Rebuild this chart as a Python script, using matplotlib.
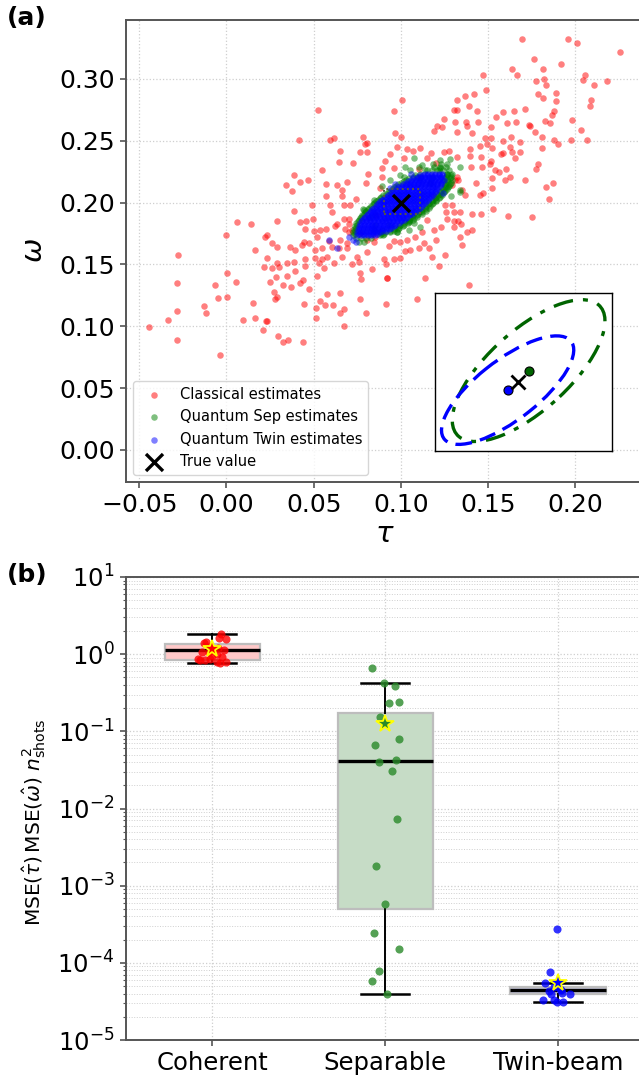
import numpy as np
import matplotlib

matplotlib.use("Agg")
import matplotlib.pyplot as plt
from matplotlib.patches import Ellipse, Rectangle


TRUE_TAU = 0.10
TRUE_OMEGA = 0.20

# (tau, omega) estimates
CLASSICAL_POINTS = [
    (0.1693, 0.332), (0.1957, 0.332), (0.2008, 0.329), (0.2257, 0.322), (0.1766, 0.316),
    (0.1919, 0.312), (0.1636, 0.308), (0.1814, 0.308), (0.1472, 0.303), (0.1665, 0.303),
    (0.2056, 0.303), (0.2043, 0.299), (0.1777, 0.298), (0.1823, 0.300), (0.2184, 0.298),
    (0.1833, 0.295), (0.2110, 0.295), (0.1491, 0.291), (0.1787, 0.288), (0.1817, 0.285),
    (0.1890, 0.289), (0.1422, 0.288), (0.1369, 0.286), (0.1323, 0.283), (0.1008, 0.283),
    (0.2088, 0.283), (0.1890, 0.282), (0.2085, 0.278), (0.1390, 0.278), (0.1709, 0.276),
    (0.1302, 0.275), (0.1323, 0.275), (0.1437, 0.274), (0.1588, 0.273), (0.1649, 0.274),
    (0.1880, 0.274), (0.0958, 0.274), (0.0523, 0.275), (0.1869, 0.271), (0.1546, 0.269),
    (0.1250, 0.268), (0.1983, 0.267), (0.1313, 0.265), (0.1371, 0.265), (0.1443, 0.265),
    (0.1609, 0.264), (0.1659, 0.265), (0.1732, 0.263), (0.1739, 0.262), (0.1827, 0.266),
    (0.1856, 0.264), (0.1207, 0.262), (0.1237, 0.261), (0.1188, 0.258), (0.1378, 0.262),
    (0.1517, 0.261), (0.2035, 0.259), (0.1768, 0.257), (0.1323, 0.257), (0.1407, 0.256),
    (0.0968, 0.256), (0.0416, 0.251), (0.0592, 0.251), (0.0619, 0.252), (0.0785, 0.253),
    (0.1002, 0.253), (0.1483, 0.252), (0.1514, 0.252), (0.1588, 0.250), (0.1632, 0.253),
    (0.1684, 0.249), (0.1810, 0.253), (0.1880, 0.251), (0.1903, 0.247), (0.1974, 0.251),
    (0.2068, 0.251), (0.0792, 0.247), (0.0807, 0.248), (0.0975, 0.245), (0.1111, 0.244),
    (0.1455, 0.246), (0.1493, 0.247), (0.1525, 0.244), (0.1584, 0.240), (0.1623, 0.245),
    (0.1636, 0.241), (0.1655, 0.236), (0.1684, 0.241), (0.1397, 0.243), (0.0767, 0.241),
    (0.0805, 0.241), (0.0649, 0.242), (0.0935, 0.239), (0.1038, 0.243), (0.1174, 0.240),
    (0.1245, 0.241), (0.1277, 0.242), (0.1812, 0.244), (0.0645, 0.233), (0.0724, 0.232),
    (0.0911, 0.234), (0.1321, 0.237), (0.1394, 0.238), (0.1461, 0.237), (0.1518, 0.234),
    (0.1573, 0.239), (0.1789, 0.231), (0.1775, 0.227), (0.0550, 0.226), (0.0958, 0.228),
    (0.1105, 0.227), (0.1401, 0.229), (0.1464, 0.229), (0.1512, 0.231), (0.1539, 0.226),
    (0.1563, 0.225), (0.1604, 0.227), (0.0386, 0.222), (0.0813, 0.223), (0.0892, 0.221),
    (0.1321, 0.221), (0.1523, 0.220), (0.1627, 0.221), (0.0420, 0.217), (0.0468, 0.218),
    (0.0342, 0.214), (0.0573, 0.215), (0.0634, 0.214), (0.0691, 0.217), (0.0802, 0.216),
    (0.1313, 0.218), (0.1328, 0.218), (0.1432, 0.216), (0.1598, 0.218), (0.1709, 0.218),
    (0.1833, 0.213), (0.1875, 0.216), (0.0376, 0.209), (0.0662, 0.210), (0.1291, 0.214),
    (0.1350, 0.210), (0.1451, 0.206), (0.1470, 0.208), (0.1525, 0.212), (0.1365, 0.206),
    (0.0573, 0.205), (0.0661, 0.205), (0.0745, 0.203), (0.1848, 0.203), (0.0489, 0.198),
    (0.0596, 0.198), (0.0672, 0.198), (0.0710, 0.198), (0.1254, 0.198), (0.1292, 0.198),
    (0.1527, 0.195), (0.0389, 0.193), (0.0607, 0.192), (0.0703, 0.187), (0.0672, 0.187),
    (0.1256, 0.192), (0.1304, 0.192), (0.1340, 0.192), (0.1409, 0.191), (0.1462, 0.191),
    (0.1613, 0.189), (0.1753, 0.188), (0.0424, 0.184), (0.0454, 0.185), (0.0496, 0.187),
    (0.0061, 0.184), (0.0143, 0.183), (0.0290, 0.185), (0.0634, 0.183), (0.0701, 0.183),
    (0.1264, 0.187), (0.1302, 0.185), (0.1327, 0.185), (0.1344, 0.183), (0.0452, 0.179),
    (0.0500, 0.177), (0.0538, 0.178), (0.0571, 0.179), (0.0624, 0.181), (0.0678, 0.179),
    (0.0722, 0.178), (0.0767, 0.175), (0.0000, 0.174), (0.0223, 0.172), (0.0233, 0.174),
    (0.1378, 0.176), (0.1409, 0.178), (0.1302, 0.180), (0.1231, 0.180), (0.1340, 0.172),
    (0.1188, 0.178), (0.1121, 0.176), (0.0443, 0.168), (0.0433, 0.166), (0.0475, 0.167),
    (0.0519, 0.172), (0.0588, 0.169), (0.0653, 0.170), (0.0691, 0.167), (0.0166, 0.162),
    (0.0262, 0.167), (0.0290, 0.164), (0.0367, 0.164), (0.0395, 0.162), (0.0510, 0.162),
    (0.0548, 0.163), (0.0605, 0.164), (0.0643, 0.163), (0.0691, 0.163), (0.0806, 0.170),
    (0.0844, 0.168), (0.0962, 0.169), (0.0993, 0.168), (0.1035, 0.170), (0.1130, 0.167),
    (0.1054, 0.162), (0.1102, 0.163), (0.1159, 0.163), (0.1178, 0.156), (0.1254, 0.158),
    (0.1350, 0.166), (-0.0277, 0.158), (0.0233, 0.155), (0.0290, 0.151), (0.0347, 0.151),
    (0.0386, 0.152), (0.0452, 0.154), (0.0510, 0.155), (0.0548, 0.154), (0.0577, 0.156),
    (0.0615, 0.151), (0.0662, 0.156), (0.0748, 0.156), (0.0806, 0.160), (0.0901, 0.154),
    (0.0958, 0.154), (0.0997, 0.155), (0.1025, 0.161), (0.0916, 0.150), (0.0214, 0.148),
    (0.0262, 0.147), (0.0300, 0.148), (0.0395, 0.145), (0.0452, 0.149), (0.0557, 0.147),
    (0.0720, 0.150), (0.0758, 0.152), (0.0834, 0.146), (0.1216, 0.149), (0.0004, 0.143),
    (0.0519, 0.141), (0.0529, 0.151), (0.0920, 0.139), (0.1140, 0.139), (-0.0286, 0.135),
    (-0.0067, 0.133), (0.0052, 0.136), (0.0004, 0.124), (-0.0046, 0.123), (-0.0130, 0.116),
    (-0.0118, 0.111), (-0.0281, 0.112), (-0.0336, 0.105), (-0.0445, 0.099), (-0.0286, 0.089),
    (-0.0038, 0.077), (0.0153, 0.119), (0.0094, 0.105), (0.0166, 0.107), (0.0227, 0.104),
    (0.0233, 0.104), (0.0208, 0.097), (0.0296, 0.092), (0.0325, 0.087), (0.0351, 0.089),
    (0.0439, 0.087), (0.0252, 0.136), (0.0283, 0.140), (0.0325, 0.133), (0.0347, 0.141),
    (0.0370, 0.132), (0.0424, 0.135), (0.0439, 0.137), (0.0472, 0.130), (0.0271, 0.128),
    (0.0290, 0.124), (0.0277, 0.122), (0.0443, 0.118), (0.0515, 0.115), (0.0535, 0.120),
    (0.0567, 0.117), (0.0609, 0.117), (0.0577, 0.126), (0.0649, 0.127), (0.0649, 0.111),
    (0.0676, 0.114), (0.0515, 0.107), (0.0676, 0.100), (0.0764, 0.122), (0.0767, 0.143),
    (0.0771, 0.138), (0.0802, 0.111), (0.0920, 0.139), (0.0913, 0.118), (0.1092, 0.122),
    (0.1392, 0.133), (0.0860, 0.190), (0.0880, 0.212), (0.1150, 0.186), (0.1190, 0.205),
    (0.0700, 0.176), (0.0850, 0.172), (0.0930, 0.165), (0.1080, 0.172), (0.1200, 0.170),
    (0.0890, 0.228), (0.1020, 0.236), (0.1150, 0.236), (0.1070, 0.242), (0.1200, 0.232),
]

SEP_POINTS = [
    # scattered fringe
    (0.1078, 0.2360), (0.1121, 0.2306), (0.1187, 0.2314), (0.1222, 0.2279), (0.1279, 0.2352),
    (0.1264, 0.2233), (0.1340, 0.2089), (0.1273, 0.2130), (0.0892, 0.2135), (0.0786, 0.1940),
    (0.0825, 0.1887), (0.0892, 0.1779), (0.0978, 0.1765), (0.1044, 0.1846), (0.0997, 0.2224),
    (0.1092, 0.2210), (0.1140, 0.2265), (0.1168, 0.2157), (0.0939, 0.2184), (0.0844, 0.2022),
    (0.0853, 0.1819), (0.0930, 0.1819), (0.1054, 0.2265), (0.1226, 0.2346), (0.1340, 0.2290),
    (0.1025, 0.2286), (0.1102, 0.2290), (0.1178, 0.2210), (0.1289, 0.2057), (0.1340, 0.2100),
    (0.0781, 0.1950), (0.0977, 0.1765), (0.1044, 0.1780), (0.0844, 0.1780), (0.0882, 0.1765),
    (0.1016, 0.2210), (0.1111, 0.1805), (0.1073, 0.1833), (0.1216, 0.2265), (0.1111, 0.2210),
    # dense ring around the twin-beam cloud
    (0.0760, 0.1685), (0.0790, 0.1685),
    (0.0745, 0.1710), (0.0770, 0.1710), (0.0800, 0.1710), (0.0830, 0.1710),
    (0.0725, 0.1735), (0.0880, 0.1735), (0.0900, 0.1735),
    (0.0736, 0.17475), (0.0886, 0.17475), (0.0906, 0.17475),
    (0.0728, 0.1760), (0.0910, 0.1760), (0.0935, 0.1760),
    (0.0736, 0.17725), (0.0940, 0.17725), (0.0960, 0.17725),
    (0.0730, 0.1785), (0.0960, 0.1785), (0.0985, 0.1785),
    (0.0741, 0.17975), (0.0966, 0.17975), (0.0990, 0.17975),
    (0.0738, 0.1810), (0.0988, 0.1810), (0.1012, 0.1810),
    (0.0746, 0.18225), (0.0994, 0.18225), (0.1016, 0.18225),
    (0.0745, 0.1835), (0.1018, 0.1835), (0.1042, 0.1835),
    (0.0754, 0.18475), (0.1024, 0.18475), (0.1046, 0.18475),
    (0.0758, 0.1860), (0.1046, 0.1860), (0.1070, 0.1860),
    (0.0766, 0.18725), (0.1052, 0.18725), (0.1074, 0.18725),
    (0.0770, 0.1885), (0.1066, 0.1885), (0.1090, 0.1885),
    (0.0780, 0.18975), (0.1072, 0.18975), (0.1094, 0.18975),
    (0.0786, 0.1910), (0.1096, 0.1910), (0.1120, 0.1910),
    (0.0796, 0.19225), (0.1102, 0.19225), (0.1124, 0.19225),
    (0.0802, 0.1935), (0.1118, 0.1935), (0.1142, 0.1935),
    (0.0812, 0.19475), (0.1124, 0.19475), (0.1146, 0.19475),
    (0.0820, 0.1960), (0.1138, 0.1960), (0.1162, 0.1960),
    (0.0830, 0.19725), (0.1144, 0.19725), (0.1166, 0.19725),
    (0.0838, 0.1985), (0.1156, 0.1985), (0.1180, 0.1985),
    (0.0848, 0.19975), (0.1162, 0.19975), (0.1184, 0.19975),
    (0.0858, 0.2010), (0.1176, 0.2010), (0.1200, 0.2010),
    (0.0868, 0.20225), (0.1182, 0.20225), (0.1204, 0.20225),
    (0.0878, 0.2035), (0.1194, 0.2035), (0.1218, 0.2035),
    (0.0888, 0.20475), (0.1200, 0.20475), (0.1222, 0.20475),
    (0.0900, 0.2060), (0.1212, 0.2060), (0.1236, 0.2060),
    (0.0912, 0.20725), (0.1204, 0.20725), (0.1228, 0.20725),
    (0.0924, 0.2085), (0.1224, 0.2085), (0.1250, 0.2085),
    (0.0936, 0.20975), (0.1228, 0.20975), (0.1252, 0.20975),
    (0.0948, 0.2110), (0.1240, 0.2110), (0.1265, 0.2110),
    (0.0960, 0.21225), (0.1230, 0.21225), (0.1256, 0.21225),
    (0.0974, 0.2135), (0.1252, 0.2135), (0.1278, 0.2135),
    (0.0986, 0.21475), (0.1254, 0.21475), (0.1280, 0.21475),
    (0.1002, 0.2160), (0.1260, 0.2160), (0.1288, 0.2160),
    (0.1016, 0.21725), (0.1242, 0.21725), (0.1270, 0.21725),
    (0.1032, 0.2185), (0.1266, 0.2185), (0.1295, 0.2185),
    (0.1046, 0.21975), (0.1250, 0.21975), (0.1280, 0.21975),
    (0.1068, 0.2210), (0.1258, 0.2210), (0.1290, 0.2210),
    (0.1082, 0.22225), (0.1262, 0.22225), (0.1290, 0.22225),
    (0.1110, 0.2235), (0.1262, 0.2235), (0.1292, 0.2235),
    (0.1150, 0.2260), (0.1180, 0.2260), (0.1210, 0.2260), (0.1240, 0.2260), (0.1275, 0.2260),
    (0.1190, 0.2285), (0.1225, 0.2285), (0.1260, 0.2285),
    (0.1230, 0.2310), (0.1265, 0.2310),
]

TWIN_POINTS = [
    (0.0750, 0.1735), (0.0770, 0.1735), (0.0790, 0.1735), (0.0810, 0.1735), (0.0830, 0.1735),
    (0.0850, 0.1735),
    (0.0761, 0.17475), (0.0781, 0.17475), (0.0801, 0.17475), (0.0821, 0.17475),
    (0.0841, 0.17475), (0.0861, 0.17475),
    (0.0750, 0.1760), (0.0772, 0.1760), (0.0794, 0.1760), (0.0816, 0.1760), (0.0838, 0.1760),
    (0.0860, 0.1760), (0.0882, 0.1760),
    (0.0761, 0.17725), (0.0783, 0.17725), (0.0805, 0.17725), (0.0827, 0.17725),
    (0.0849, 0.17725), (0.0871, 0.17725), (0.0893, 0.17725), (0.0915, 0.17725),
    (0.0755, 0.1785), (0.0777, 0.1785), (0.0799, 0.1785), (0.0821, 0.1785), (0.0843, 0.1785),
    (0.0865, 0.1785), (0.0887, 0.1785), (0.0909, 0.1785), (0.0930, 0.1785),
    (0.0766, 0.17975), (0.0788, 0.17975), (0.0810, 0.17975), (0.0832, 0.17975),
    (0.0854, 0.17975), (0.0876, 0.17975), (0.0898, 0.17975), (0.0920, 0.17975),
    (0.0941, 0.17975),
    (0.0760, 0.1810), (0.0782, 0.1810), (0.0804, 0.1810), (0.0826, 0.1810), (0.0848, 0.1810),
    (0.0870, 0.1810), (0.0892, 0.1810), (0.0914, 0.1810), (0.0936, 0.1810), (0.0958, 0.1810),
    (0.0771, 0.18225), (0.0793, 0.18225), (0.0815, 0.18225), (0.0837, 0.18225),
    (0.0859, 0.18225), (0.0881, 0.18225), (0.0903, 0.18225), (0.0925, 0.18225),
    (0.0947, 0.18225), (0.0969, 0.18225),
    (0.0768, 0.1835), (0.0790, 0.1835), (0.0812, 0.1835), (0.0834, 0.1835), (0.0856, 0.1835),
    (0.0878, 0.1835), (0.0900, 0.1835), (0.0922, 0.1835), (0.0944, 0.1835), (0.0966, 0.1835),
    (0.0988, 0.1835),
    (0.0779, 0.18475), (0.0801, 0.18475), (0.0823, 0.18475), (0.0845, 0.18475),
    (0.0867, 0.18475), (0.0889, 0.18475), (0.0911, 0.18475), (0.0933, 0.18475),
    (0.0955, 0.18475), (0.0977, 0.18475), (0.0999, 0.18475),
    (0.0780, 0.1860), (0.0802, 0.1860), (0.0824, 0.1860), (0.0846, 0.1860), (0.0868, 0.1860),
    (0.0890, 0.1860), (0.0912, 0.1860), (0.0934, 0.1860), (0.0956, 0.1860), (0.0978, 0.1860),
    (0.1000, 0.1860), (0.1016, 0.1860),
    (0.0791, 0.18725), (0.0813, 0.18725), (0.0835, 0.18725), (0.0857, 0.18725),
    (0.0879, 0.18725), (0.0901, 0.18725), (0.0923, 0.18725), (0.0945, 0.18725),
    (0.0967, 0.18725), (0.0989, 0.18725), (0.1011, 0.18725), (0.1027, 0.18725),
    (0.0794, 0.1885), (0.0816, 0.1885), (0.0838, 0.1885), (0.0860, 0.1885), (0.0882, 0.1885),
    (0.0904, 0.1885), (0.0926, 0.1885), (0.0948, 0.1885), (0.0970, 0.1885), (0.0992, 0.1885),
    (0.1014, 0.1885), (0.1036, 0.1885),
    (0.0805, 0.18975), (0.0827, 0.18975), (0.0849, 0.18975), (0.0871, 0.18975),
    (0.0893, 0.18975), (0.0915, 0.18975), (0.0937, 0.18975), (0.0959, 0.18975),
    (0.0981, 0.18975), (0.1003, 0.18975), (0.1025, 0.18975), (0.1047, 0.18975),
    (0.0810, 0.1910), (0.0832, 0.1910), (0.0854, 0.1910), (0.0876, 0.1910), (0.0898, 0.1910),
    (0.0920, 0.1910), (0.0942, 0.1910), (0.0964, 0.1910), (0.0986, 0.1910), (0.1008, 0.1910),
    (0.1030, 0.1910), (0.1052, 0.1910), (0.1066, 0.1910),
    (0.0821, 0.19225), (0.0843, 0.19225), (0.0865, 0.19225), (0.0887, 0.19225),
    (0.0909, 0.19225), (0.0931, 0.19225), (0.0953, 0.19225), (0.0975, 0.19225),
    (0.0997, 0.19225), (0.1019, 0.19225), (0.1041, 0.19225), (0.1063, 0.19225),
    (0.1077, 0.19225),
    (0.0826, 0.1935), (0.0848, 0.1935), (0.0870, 0.1935), (0.0892, 0.1935), (0.0914, 0.1935),
    (0.0936, 0.1935), (0.0958, 0.1935), (0.0980, 0.1935), (0.1002, 0.1935), (0.1024, 0.1935),
    (0.1046, 0.1935), (0.1068, 0.1935), (0.1088, 0.1935),
    (0.0837, 0.19475), (0.0859, 0.19475), (0.0881, 0.19475), (0.0903, 0.19475),
    (0.0925, 0.19475), (0.0947, 0.19475), (0.0969, 0.19475), (0.0991, 0.19475),
    (0.1013, 0.19475), (0.1035, 0.19475), (0.1057, 0.19475), (0.1079, 0.19475),
    (0.1099, 0.19475),
    (0.0844, 0.1960), (0.0866, 0.1960), (0.0888, 0.1960), (0.0910, 0.1960), (0.0932, 0.1960),
    (0.0954, 0.1960), (0.0976, 0.1960), (0.0998, 0.1960), (0.1020, 0.1960), (0.1042, 0.1960),
    (0.1064, 0.1960), (0.1086, 0.1960), (0.1108, 0.1960),
    (0.0855, 0.19725), (0.0877, 0.19725), (0.0899, 0.19725), (0.0921, 0.19725),
    (0.0943, 0.19725), (0.0965, 0.19725), (0.0987, 0.19725), (0.1009, 0.19725),
    (0.1031, 0.19725), (0.1053, 0.19725), (0.1075, 0.19725), (0.1097, 0.19725),
    (0.1119, 0.19725),
    (0.0862, 0.1985), (0.0884, 0.1985), (0.0906, 0.1985), (0.0928, 0.1985), (0.0950, 0.1985),
    (0.0972, 0.1985), (0.0994, 0.1985), (0.1016, 0.1985), (0.1038, 0.1985), (0.1060, 0.1985),
    (0.1082, 0.1985), (0.1104, 0.1985), (0.1126, 0.1985),
    (0.0873, 0.19975), (0.0895, 0.19975), (0.0917, 0.19975), (0.0939, 0.19975),
    (0.0961, 0.19975), (0.0983, 0.19975), (0.1005, 0.19975), (0.1027, 0.19975),
    (0.1049, 0.19975), (0.1071, 0.19975), (0.1093, 0.19975), (0.1115, 0.19975),
    (0.1137, 0.19975),
    (0.0882, 0.2010), (0.0904, 0.2010), (0.0926, 0.2010), (0.0948, 0.2010), (0.0970, 0.2010),
    (0.0992, 0.2010), (0.1014, 0.2010), (0.1036, 0.2010), (0.1058, 0.2010), (0.1080, 0.2010),
    (0.1102, 0.2010), (0.1124, 0.2010), (0.1146, 0.2010),
    (0.0893, 0.20225), (0.0915, 0.20225), (0.0937, 0.20225), (0.0959, 0.20225),
    (0.0981, 0.20225), (0.1003, 0.20225), (0.1025, 0.20225), (0.1047, 0.20225),
    (0.1069, 0.20225), (0.1091, 0.20225), (0.1113, 0.20225), (0.1135, 0.20225),
    (0.1157, 0.20225),
    (0.0902, 0.2035), (0.0924, 0.2035), (0.0946, 0.2035), (0.0968, 0.2035), (0.0990, 0.2035),
    (0.1012, 0.2035), (0.1034, 0.2035), (0.1056, 0.2035), (0.1078, 0.2035), (0.1100, 0.2035),
    (0.1122, 0.2035), (0.1144, 0.2035), (0.1164, 0.2035),
    (0.0913, 0.20475), (0.0935, 0.20475), (0.0957, 0.20475), (0.0979, 0.20475),
    (0.1001, 0.20475), (0.1023, 0.20475), (0.1045, 0.20475), (0.1067, 0.20475),
    (0.1089, 0.20475), (0.1111, 0.20475), (0.1133, 0.20475), (0.1155, 0.20475),
    (0.1175, 0.20475),
    (0.0926, 0.2060), (0.0948, 0.2060), (0.0970, 0.2060), (0.0992, 0.2060), (0.1014, 0.2060),
    (0.1036, 0.2060), (0.1058, 0.2060), (0.1080, 0.2060), (0.1102, 0.2060), (0.1124, 0.2060),
    (0.1146, 0.2060), (0.1168, 0.2060), (0.1182, 0.2060),
    (0.0937, 0.20725), (0.0959, 0.20725), (0.0981, 0.20725), (0.1003, 0.20725),
    (0.1025, 0.20725), (0.1047, 0.20725), (0.1069, 0.20725), (0.1091, 0.20725),
    (0.1113, 0.20725), (0.1135, 0.20725), (0.1157, 0.20725), (0.1179, 0.20725),
    (0.0950, 0.2085), (0.0972, 0.2085), (0.0994, 0.2085), (0.1016, 0.2085), (0.1038, 0.2085),
    (0.1060, 0.2085), (0.1082, 0.2085), (0.1104, 0.2085), (0.1126, 0.2085), (0.1148, 0.2085),
    (0.1170, 0.2085), (0.1194, 0.2085),
    (0.0961, 0.20975), (0.0983, 0.20975), (0.1005, 0.20975), (0.1027, 0.20975),
    (0.1049, 0.20975), (0.1071, 0.20975), (0.1093, 0.20975), (0.1115, 0.20975),
    (0.1137, 0.20975), (0.1159, 0.20975), (0.1181, 0.20975), (0.1203, 0.20975),
    (0.0974, 0.2110), (0.0996, 0.2110), (0.1018, 0.2110), (0.1040, 0.2110), (0.1062, 0.2110),
    (0.1084, 0.2110), (0.1106, 0.2110), (0.1128, 0.2110), (0.1150, 0.2110), (0.1172, 0.2110),
    (0.1194, 0.2110), (0.1210, 0.2110),
    (0.0985, 0.21225), (0.1007, 0.21225), (0.1029, 0.21225), (0.1051, 0.21225),
    (0.1073, 0.21225), (0.1095, 0.21225), (0.1117, 0.21225), (0.1139, 0.21225),
    (0.1161, 0.21225), (0.1183, 0.21225), (0.1205, 0.21225),
    (0.1000, 0.2135), (0.1022, 0.2135), (0.1044, 0.2135), (0.1066, 0.2135), (0.1088, 0.2135),
    (0.1110, 0.2135), (0.1132, 0.2135), (0.1154, 0.2135), (0.1176, 0.2135), (0.1198, 0.2135),
    (0.1222, 0.2135),
    (0.1011, 0.21475), (0.1033, 0.21475), (0.1055, 0.21475), (0.1077, 0.21475),
    (0.1099, 0.21475), (0.1121, 0.21475), (0.1143, 0.21475), (0.1165, 0.21475),
    (0.1187, 0.21475), (0.1209, 0.21475), (0.1229, 0.21475),
    (0.1030, 0.2160), (0.1052, 0.2160), (0.1074, 0.2160), (0.1096, 0.2160), (0.1118, 0.2160),
    (0.1140, 0.2160), (0.1162, 0.2160), (0.1184, 0.2160), (0.1206, 0.2160), (0.1230, 0.2160),
    (0.1041, 0.21725), (0.1063, 0.21725), (0.1085, 0.21725), (0.1107, 0.21725),
    (0.1129, 0.21725), (0.1151, 0.21725), (0.1173, 0.21725), (0.1195, 0.21725),
    (0.1217, 0.21725),
    (0.1060, 0.2185), (0.1082, 0.2185), (0.1104, 0.2185), (0.1126, 0.2185), (0.1148, 0.2185),
    (0.1170, 0.2185), (0.1192, 0.2185), (0.1214, 0.2185), (0.1236, 0.2185),
    (0.1071, 0.21975), (0.1093, 0.21975), (0.1115, 0.21975), (0.1137, 0.21975),
    (0.1159, 0.21975), (0.1181, 0.21975), (0.1203, 0.21975), (0.1225, 0.21975),
    (0.1096, 0.2210), (0.1118, 0.2210), (0.1140, 0.2210), (0.1162, 0.2210), (0.1184, 0.2210),
    (0.1206, 0.2210), (0.1228, 0.2210),
    (0.1107, 0.22225), (0.1129, 0.22225), (0.1151, 0.22225), (0.1173, 0.22225),
    (0.1195, 0.22225), (0.1217, 0.22225), (0.1237, 0.22225),
    (0.1136, 0.2235), (0.1156, 0.2235), (0.1176, 0.2235), (0.1196, 0.2235), (0.1216, 0.2235),
    (0.1236, 0.2235),
    # stragglers
    (0.0590, 0.1695), (0.0634, 0.1630), (0.0725, 0.1700), (0.0740, 0.1680), (0.0700, 0.1720),
    (0.0964, 0.2150), (0.1245, 0.2180), (0.0940, 0.2120), (0.1060, 0.2230), (0.1240, 0.2080),
]

# zoomed window shown in the inset, with mean and 1-sigma covariance of each estimator
INSET_XLIM = (0.0905, 0.1107)
INSET_YLIM = (0.1911, 0.2113)
SEP_MEAN = (0.1012, 0.2014)
TWIN_MEAN = (0.0988, 0.1989)
SEP_STD = (0.00873, 0.00908)
TWIN_STD = (0.00756, 0.00695)
SEP_RHO = 0.70
TWIN_RHO = 0.74

# panel (b): MSE product per run, with horizontal jitter used in the strip plot
STATES = ["Coherent", "Separable", "Twin-beam"]
COHERENT_MSE = [1.85, 1.60, 1.56, 1.13, 1.38, 1.08, 0.84, 0.84, 0.86, 0.80,
                0.776, 0.78, 1.02, 0.93, 0.86, 1.08, 1.25, 1.45, 0.95, 1.20]
COHERENT_JITTER = [0.052, 0.042, 0.081, 0.069, -0.050, -0.060, -0.069, -0.040, -0.012, 0.027,
                   0.046, 0.081, 0.027, 0.056, -0.079, -0.021, -0.012, -0.035, 0.000, 0.035]
SEPARABLE_MSE = [0.668, 0.42, 0.387, 0.235, 0.243, 0.155, 0.13, 0.0797, 0.066, 0.0427,
                 0.0398, 0.0307, 0.0073, 0.00179, 5.8e-4, 2.45e-4, 1.49e-4, 7.94e-5,
                 5.73e-5, 3.89e-5]
SEPARABLE_JITTER = [-0.074, -0.008, 0.058, 0.021, 0.081, -0.027, 0.0, 0.080, -0.060, 0.064,
                    -0.038, 0.039, 0.068, -0.055, 0.000, -0.066, 0.080, -0.038, -0.074, 0.009]
TWIN_MSE = [7.7e-5, 5.56e-5, 4.33e-5, 4.9e-5, 4.4e-5, 4.07e-5, 4.0e-5, 3.32e-5, 3.32e-5,
            3.1e-5, 3.1e-5, 4.0e-5, 2.75e-4, 5.5e-5, 4.6e-5]
TWIN_JITTER = [-0.048, -0.075, -0.052, -0.023, 0.015, 0.025, 0.069, -0.088, -0.023,
               -0.004, 0.027, -0.042, -0.006, 0.000, 0.010]

BOX_Q1 = [0.841, 4.95e-4, 3.94e-5]
BOX_MEDIAN = [1.13, 0.0414, 4.47e-5]
BOX_Q3 = [1.343, 0.1746, 4.93e-5]
BOX_WHISLO = [0.776, 3.89e-5, 3.13e-5]
BOX_WHISHI = [1.83, 0.42, 5.56e-5]
MEAN_MSE = [1.16, 0.1247, 5.56e-5]

SPINE_COLOR = "#555555"
GRID_COLOR = "#cfcfcf"


def style_axes(ax):
    for spine in ax.spines.values():
        spine.set_color(SPINE_COLOR)
        spine.set_linewidth(1.4)
    ax.tick_params(which="major", length=4.5, width=1.2, color=SPINE_COLOR)
    ax.tick_params(which="minor", length=2.5, width=0.8, color=SPINE_COLOR)


def cov_ellipse(ax, center, std, rho, **kwargs):
    sx, sy = std
    cov = np.array([[sx ** 2, rho * sx * sy], [rho * sx * sy, sy ** 2]])
    vals, vecs = np.linalg.eigh(cov)
    angle = np.degrees(np.arctan2(vecs[1, 1], vecs[0, 1]))
    ax.add_patch(
        Ellipse(center, 2 * np.sqrt(vals[1]), 2 * np.sqrt(vals[0]), angle=angle,
                fill=False, **kwargs)
    )


def plot_scatter_panel(fig):
    ax = fig.add_axes([0.1972, 0.5529, 0.8114, 0.4289])
    style_axes(ax)

    for points, color, label, z in [
        (CLASSICAL_POINTS, "red", "Classical estimates", 2),
        (SEP_POINTS, "green", "Quantum Sep estimates", 3),
        (TWIN_POINTS, "blue", "Quantum Twin estimates", 4),
    ]:
        tau = [p[0] for p in points]
        omega = [p[1] for p in points]
        ax.scatter(tau, omega, s=22, color=color, alpha=0.5, linewidths=0,
                   label=label, zorder=z)
    ax.scatter([TRUE_TAU], [TRUE_OMEGA], marker="x", s=150, color="black",
               linewidths=2.4, label="True value", zorder=6)

    # dotted frame marking the zoomed window
    ax.add_patch(Rectangle((INSET_XLIM[0], INSET_YLIM[0]),
                           INSET_XLIM[1] - INSET_XLIM[0], INSET_YLIM[1] - INSET_YLIM[0],
                           fill=False, ls=":", lw=1.4, ec="#5a5a3c", zorder=5))

    ax.set_xlim(-0.0576, 0.2397)
    ax.set_ylim(-0.026, 0.348)
    ax.set_xticks([-0.05, 0.0, 0.05, 0.10, 0.15, 0.20])
    ax.set_yticks([0.0, 0.05, 0.10, 0.15, 0.20, 0.25, 0.30])
    ax.tick_params(labelsize=18)
    ax.grid(True, ls=":", color=GRID_COLOR, lw=0.9)
    ax.set_axisbelow(True)
    ax.set_xlabel(r"$\tau$", fontsize=21, labelpad=2)
    ax.set_ylabel(r"$\omega$", fontsize=21, labelpad=8)
    ax.legend(loc="lower left", fontsize=10.5, framealpha=0.8, handletextpad=0.8)

    inset = fig.add_axes([0.6808, 0.5816, 0.2765, 0.1463])
    inset.set_xlim(*INSET_XLIM)
    inset.set_ylim(*INSET_YLIM)
    inset.set_xticks([])
    inset.set_yticks([])
    for spine in inset.spines.values():
        spine.set_color("black")
        spine.set_linewidth(1.0)
    cov_ellipse(inset, SEP_MEAN, SEP_STD, SEP_RHO, ec="darkgreen", lw=2.4,
                ls=(0, (6, 3, 1.5, 3)))
    cov_ellipse(inset, TWIN_MEAN, TWIN_STD, TWIN_RHO, ec="blue", lw=2.4,
                ls=(0, (5, 2.5)))
    inset.plot(*SEP_MEAN, "o", color="darkgreen", mec="black", mew=0.8, ms=6.5)
    inset.plot(*TWIN_MEAN, "o", color="blue", mec="black", mew=0.8, ms=6.5)
    inset.plot(TRUE_TAU, TRUE_OMEGA, "x", color="black", ms=10, mew=2)


def plot_mse_panel(fig):
    ax = fig.add_axes([0.1967, 0.03525, 0.8119, 0.4295])
    style_axes(ax)
    ax.set_yscale("log")

    stats = []
    for i, label in enumerate(STATES):
        stats.append({
            "label": label,
            "q1": BOX_Q1[i],
            "med": BOX_MEDIAN[i],
            "q3": BOX_Q3[i],
            "whislo": BOX_WHISLO[i],
            "whishi": BOX_WHISHI[i],
            "fliers": [],
        })
    box_faces = ["#ffc9c9", "#c6dcc6", "#c8c8dc"]
    bp = ax.bxp(stats, positions=[0, 1, 2], widths=0.55, patch_artist=True,
                showfliers=False,
                boxprops=dict(edgecolor="#bdbdbd", linewidth=1.6),
                medianprops=dict(color="black", linewidth=2.4),
                whiskerprops=dict(color="black", linewidth=1.4),
                capprops=dict(color="black", linewidth=1.8))
    for patch, face in zip(bp["boxes"], box_faces):
        patch.set_facecolor(face)

    series = [
        (COHERENT_MSE, COHERENT_JITTER, "red"),
        (SEPARABLE_MSE, SEPARABLE_JITTER, "#2a8a2a"),
        (TWIN_MSE, TWIN_JITTER, "blue"),
    ]
    for i, (values, jitter, color) in enumerate(series):
        ax.scatter([i + j for j in jitter], values, s=34, color=color, alpha=0.8,
                   linewidths=0, zorder=4)
        ax.plot(i, MEAN_MSE[i], marker="*", ms=13, color=color, mec="yellow",
                mew=1.3, zorder=6)

    ax.set_xlim(-0.5, 2.5)
    ax.set_ylim(1e-5, 1e1)
    ax.set_xticks([0, 1, 2])
    ax.set_xticklabels(STATES)
    ax.tick_params(labelsize=17.5)
    ax.grid(True, which="major", ls=":", color=GRID_COLOR, lw=0.9)
    ax.grid(True, which="minor", axis="y", ls=":", color=GRID_COLOR, lw=0.7)
    ax.set_axisbelow(True)
    ax.set_ylabel(r"MSE$(\hat{\tau})\,$MSE$(\hat{\omega})$ $n^2_{\mathrm{shots}}$",
                  fontsize=14.5)
    ax.yaxis.set_label_coords(-0.15, 0.47)


def main():
    fig = plt.figure(figsize=(6.39, 10.78), dpi=100)
    plot_scatter_panel(fig)
    plot_mse_panel(fig)
    fig.text(0.011, 0.994, "(a)", fontsize=18, fontweight="bold", va="top")
    fig.text(0.011, 0.478, "(b)", fontsize=18, fontweight="bold", va="top")
    fig.savefig("out.png", dpi=100)
    plt.close(fig)


if __name__ == "__main__":
    main()
